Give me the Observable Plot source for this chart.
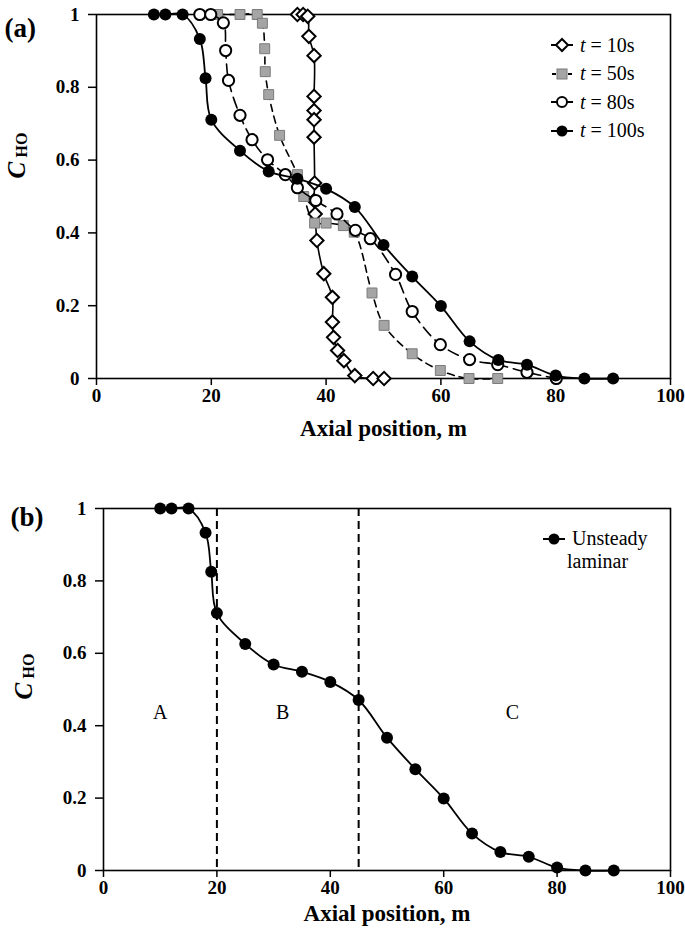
<!DOCTYPE html>
<html><head><meta charset="utf-8">
<script src="https://cdn.jsdelivr.net/npm/d3@7"></script>
<script src="https://cdn.jsdelivr.net/npm/@observablehq/plot@0.6"></script>
<style>
body{margin:0;background:#fff;}
#wrap{position:relative;width:685px;height:940px;font-family:"Liberation Serif","Times New Roman",serif;color:#000;}
.panel{position:absolute;left:0;}
.legend{position:absolute;font-size:20px;}
.legend .row{display:flex;align-items:center;height:28.5px;white-space:nowrap;}
.legend svg{display:block;margin-right:6px;}
</style></head><body><div id="wrap"></div>
<script>
// ---- data ----
const xTicks = [0, 20, 40, 60, 80, 100];
const xTickLabels = ["0", "20", "40", "60", "80", "100"];
const yTicks = [0, 0.2, 0.4, 0.6, 0.8, 1];
const yTickLabels = ["0", "0.2", "0.4", "0.6", "0.8", "1"];
const seriesNames = ["10s", "50s", "80s", "100s"];

const x10 = [35, 36, 36.8, 37, 37.9, 37.9, 37.9, 37.9, 37.9, 38, 37.9, 38.1, 38.4, 39.6, 41.1, 41.1, 41.3, 42, 43.1, 45, 48.2, 50.1];
const c10 = [1, 1, 0.995, 0.94, 0.887, 0.775, 0.736, 0.711, 0.663, 0.537, 0.489, 0.452, 0.379, 0.288, 0.223, 0.155, 0.113, 0.077, 0.049, 0.008, 0, 0];

const x50 = [21.1, 25, 28, 28.9, 29.3, 29.4, 30, 31.9, 35, 36.1, 38, 40, 43, 44.9, 48, 50.1, 55, 59.9, 64.9, 69.9];
const c50 = [1, 1, 1, 0.976, 0.906, 0.843, 0.78, 0.668, 0.56, 0.5, 0.427, 0.427, 0.42, 0.402, 0.235, 0.146, 0.068, 0.022, 0, 0];

const x80 = [18, 19.9, 22.1, 22.5, 23, 25, 27.1, 29.8, 32.9, 35, 38.2, 41.9, 45.1, 47.7, 52.1, 55, 59.9, 65, 69.9, 75, 80.1];
const c80 = [1, 1, 0.977, 0.901, 0.819, 0.723, 0.656, 0.601, 0.56, 0.524, 0.489, 0.452, 0.407, 0.384, 0.286, 0.184, 0.093, 0.052, 0.038, 0.017, 0];

const x100 = [10, 12, 15, 18, 19, 20, 25, 30, 35, 40, 45, 50, 55, 60, 65, 70, 75, 80, 85, 90];
const c100 = [1, 1, 1, 0.933, 0.825, 0.711, 0.626, 0.569, 0.549, 0.521, 0.471, 0.367, 0.28, 0.199, 0.102, 0.051, 0.038, 0.008, 0, 0];

const zoneLabels = ["A", "B", "C"];
const zoneX = [10, 31.6, 72.1];
const zoneY = [0.435, 0.435, 0.435];
const boundaries = [20, 45];

// ---- build ----
const rows = (xs, cs) => xs.map((x, i) => ({x, c: cs[i]}));
const data = [rows(x10, c10), rows(x50, c50), rows(x80, c80), rows(x100, c100)];

const styles = [
  {line: {stroke: "#000", strokeWidth: 1.6}, dot: {symbol: "diamond2", r: 6, fill: "#fff", stroke: "#000", strokeWidth: 2}},
  {line: {stroke: "#000", strokeWidth: 1.6, strokeDasharray: "7,5"}, dot: {symbol: "square", r: 5.6, fill: "#a5a5a5", stroke: "#7a7a7a", strokeWidth: 1}},
  {line: {stroke: "#000", strokeWidth: 1.6, strokeDasharray: "11,6"}, dot: {symbol: "circle", r: 5.6, fill: "#fff", stroke: "#000", strokeWidth: 2}},
  {line: {stroke: "#000", strokeWidth: 1.8}, dot: {symbol: "circle", r: 6, fill: "#000", stroke: "none"}}
];

function seriesMarks(d, s) {
  return [
    Plot.line(d, {x: "x", y: "c", curve: "catmull-rom", ...s.line}),
    Plot.dot(d, {x: "x", y: "c", ...s.dot})
  ];
}

function axes() {
  return [
    Plot.axisY({ticks: yTicks, tickFormat: d => yTickLabels[yTicks.indexOf(d)], tickSize: 8, tickPadding: 9, strokeWidth: 1.5, label: null}),
    Plot.axisX({ticks: xTicks, tickFormat: d => xTickLabels[xTicks.indexOf(d)], tickSize: 7, tickPadding: 3, strokeWidth: 1.5, label: null}),
    Plot.frame({stroke: "#000", strokeWidth: 1.6})
  ];
}

function yTitle(dyC, dyS) {
  return [
    Plot.text(["C"], {text: d => d, frameAnchor: "left", dx: -80, dy: dyC, rotate: -90, fontSize: 25, fontStyle: "italic", fontWeight: "bold"}),
    Plot.text(["HO"], {text: d => d, frameAnchor: "left", dx: -75, dy: dyS, rotate: -90, fontSize: 16, fontWeight: "bold"})
  ];
}

const common = {
  width: 685, height: 470,
  style: {fontFamily: '"Liberation Serif", "Times New Roman", serif', fontSize: "19px", color: "#000", background: "transparent"},
  x: {domain: [0, 100]},
  y: {domain: [0, 1]}
};

const plotA = Plot.plot({
  ...common,
  marginTop: 14, marginBottom: 92, marginLeft: 96, marginRight: 15,
  marks: [
    ...axes(),
    ...data.flatMap((d, i) => seriesMarks(d, styles[i])),
    Plot.text(["Axial position, m"], {text: d => d, frameAnchor: "bottom", dy: 57, fontSize: 23, fontWeight: "bold"}),
    Plot.text(["(a)"], {text: d => d, frameAnchor: "top-left", dx: -92, dy: 3, textAnchor: "start", fontSize: 27, fontWeight: "bold"}),
    ...yTitle(-18, -39)
  ]
});

const plotB = Plot.plot({
  ...common,
  marginTop: 38, marginBottom: 70, marginLeft: 103, marginRight: 15,
  marks: [
    ...axes(),
    Plot.ruleX(boundaries, {stroke: "#000", strokeWidth: 2, strokeDasharray: "8,5"}),
    Plot.text(zoneLabels, {x: (d, i) => zoneX[i], y: (d, i) => zoneY[i], text: d => d, fontSize: 20}),
    ...seriesMarks(data[3], styles[3]),
    Plot.text(["Axial position, m"], {text: d => d, frameAnchor: "bottom", dy: 50, fontSize: 23, fontWeight: "bold"}),
    Plot.text(["(b)"], {text: d => d, frameAnchor: "top-left", dx: -93, dy: -2, textAnchor: "start", fontSize: 27, fontWeight: "bold"}),
    ...yTitle(10, -11)
  ]
});

for (const p of [plotA, plotB]) {
  d3.select(p).selectAll('g[aria-label$="tick label"]').attr("font-weight", "bold");
}

plotA.classList.add("panel"); plotA.style.top = "0px";
plotB.classList.add("panel"); plotB.style.top = "470px";
wrap.appendChild(plotA);
wrap.appendChild(plotB);

// ---- legends ----
function swatch(s) {
  const w = 24, h = 16, cy = 8;
  const dash = s.line.strokeDasharray ? (s.dot.symbol === "square" ? "4,4" : "none") : "none";
  let shape;
  const st = `fill="${s.dot.fill}" stroke="${s.dot.stroke}" stroke-width="${s.dot.strokeWidth}"`;
  if (s.dot.symbol === "diamond2") shape = `<path d="M12,${cy-6} L18,${cy} L12,${cy+6} L6,${cy} Z" ${st}/>`;
  else if (s.dot.symbol === "square") shape = `<rect x="7" y="${cy-5}" width="10" height="10" ${st}/>`;
  else shape = `<circle cx="12" cy="${cy}" r="${s.dot.fill === "#000" ? 5.5 : 5}" ${st}/>`;
  return `<svg width="${w}" height="${h}"><line x1="1" x2="23" y1="${cy}" y2="${cy}" stroke="#000" stroke-width="2" ${dash !== "none" ? `stroke-dasharray="${dash}" stroke-dashoffset="-1"` : ""}/>${shape}</svg>`;
}

const legA = document.createElement("div");
legA.className = "legend";
legA.style.left = "550px"; legA.style.top = "31px";
legA.innerHTML = seriesNames.map((n, i) => `<div class="row">${swatch(styles[i])}<span><i>t</i> = ${n}</span></div>`).join("");
wrap.appendChild(legA);

const legB = document.createElement("div");
legB.className = "legend";
legB.style.left = "542px"; legB.style.top = "527px"; legB.style.lineHeight = "23px";
legB.innerHTML = `<div class="row" style="height:23px">${swatch(styles[3])}<span>Unsteady</span></div><div style="padding-left:25px;">laminar</div>`;
wrap.appendChild(legB);
</script>
</body></html>
